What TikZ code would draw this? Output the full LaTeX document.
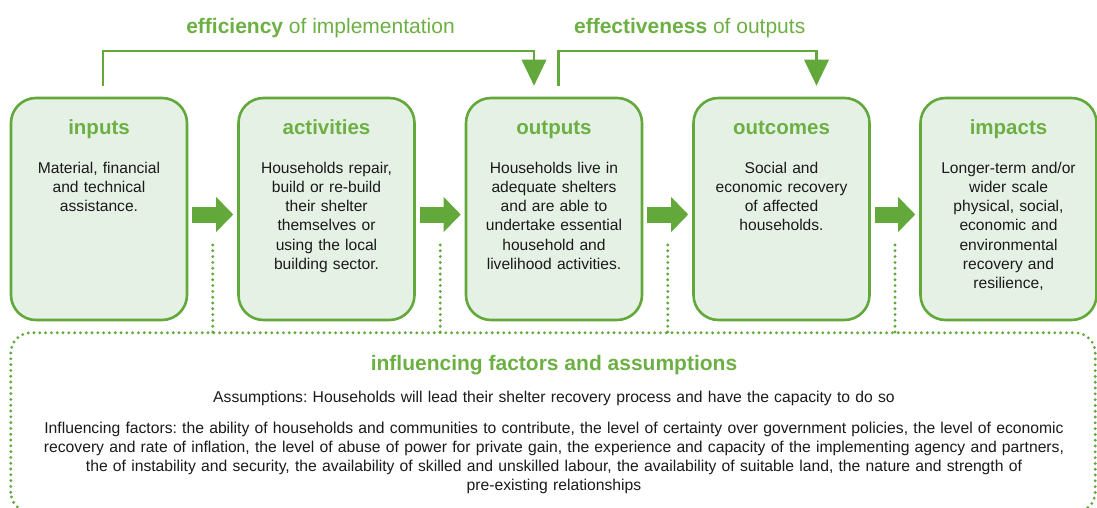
\documentclass[tikz,border=0pt]{standalone}
\usepackage{fontspec}
\setmainfont{Liberation Sans}
\usetikzlibrary{arrows.meta,calc}
\definecolor{lgreen}{HTML}{62A83A}
\definecolor{tgreen}{HTML}{6CB043}
\definecolor{boxfill}{HTML}{E6F1E6}
\definecolor{txt}{HTML}{1A1A1A}
\frenchspacing
\begin{document}
\begin{tikzpicture}[x=1pt,y=1pt,
  stage/.style={draw=lgreen,line width=2.6pt,fill=boxfill,rounded corners=25pt,minimum width=176pt,minimum height=222pt,inner sep=0pt},
  stitle/.style={font=\fontsize{20.5}{24}\selectfont\bfseries,text=tgreen,anchor=base,inner sep=0pt},
  sbody/.style={font=\fontsize{15.6}{19.3}\selectfont,text=txt,align=center,text width=176pt,anchor=base,inner sep=0pt},
  blockarrow/.style={draw=lgreen,line width=16pt,-{Triangle[length=17pt,width=35pt,line width=0pt]}},
  bracket/.style={draw=lgreen,line width=2.2pt,-{Triangle[length=26pt,width=25pt,line width=0pt]}},
  header/.style={font=\fontsize{21}{24}\selectfont,text=tgreen,anchor=base,inner sep=0pt},
  dotline/.style={draw=lgreen,line width=3.2pt,line cap=round,dash pattern=on 0pt off 5.8pt},
  ftext/.style={font=\fontsize{15.7}{19}\selectfont,text=txt,align=center,text width=1084pt,anchor=base,inner sep=0pt}
]
\useasboundingbox (0,0) rectangle (1097,507);
\clip (0,0) rectangle (1097,507);

% stage boxes
\node[stage] (inputs) at (99,298) {};
\node[stage] (activities) at (326.5,298) {};
\node[stage] (outputs) at (554,298) {};
\node[stage] (outcomes) at (781.5,298) {};
\node[stage] (impacts) at (1008.5,298) {};

% titles
\node[stitle] (t1) at (99,372) {inputs};
\node[stitle] (t2) at (326.5,372) {activities};
\node[stitle] (t3) at (554,372) {outputs};
\node[stitle] (t4) at (781.5,372) {outcomes};
\node[stitle] (t5) at (1008.5,372) {impacts};

% bodies
\node[sbody] (b1) at (99,334) {Material, financial\\and technical\\assistance.};
\node[sbody] (b2) at (326.5,334) {Households repair,\\build or re-build\\their shelter\\themselves or\\using the local\\building sector.};
\node[sbody] (b3) at (554,334) {Households live in\\adequate shelters\\and are able to\\undertake essential\\household and\\livelihood activities.};
\node[sbody] (b4) at (781.5,334) {Social and\\economic recovery\\of affected\\households.};
\node[sbody] (b5) at (1008.5,334) {Longer-term and/or\\wider scale\\physical, social,\\economic and\\environmental\\recovery and\\resilience,};

% block arrows
\draw[blockarrow] ([xshift=4pt,yshift=-5.5pt]inputs.east) -- ([xshift=-4pt,yshift=-5.5pt]activities.west);
\draw[blockarrow] ([xshift=4pt,yshift=-5.5pt]activities.east) -- ([xshift=-4pt,yshift=-5.5pt]outputs.west);
\draw[blockarrow] ([xshift=4pt,yshift=-5.5pt]outputs.east) -- ([xshift=-4pt,yshift=-5.5pt]outcomes.west);
\draw[blockarrow] ([xshift=4pt,yshift=-5.5pt]outcomes.east) -- ([xshift=-4pt,yshift=-5.5pt]impacts.west);

% brackets
\coordinate (e1) at ([xshift=4pt,yshift=11pt]inputs.north);
\coordinate (e2) at ([xshift=-20pt,yshift=11pt]outputs.north);
\coordinate (f1) at ([xshift=4.5pt,yshift=11pt]outputs.north);
\coordinate (f2) at ([xshift=35pt,yshift=11pt]outcomes.north);
\draw[bracket] (e1) -- ++(0,35) -| (e2);
\draw[bracket] (f1) -- ++(0,35) -| (f2);
\node[header] (h1) at (320.5,473) {\textbf{efficiency} of implementation};
\node[header] (h2) at (689.7,473) {\textbf{effectiveness} of outputs};

% influencing factors box
\node[draw=none,minimum width=1084pt,minimum height=179pt,inner sep=0pt] (factors) at (553,84.5) {};
\draw[dotline,rounded corners=20pt] (factors.south west) rectangle (factors.north east);
\coordinate (d1) at ($(inputs.east)!0.5!(activities.west)+(0,-36)$);
\coordinate (d2) at ($(activities.east)!0.5!(outputs.west)+(0,-36)$);
\coordinate (d3) at ($(outputs.east)!0.5!(outcomes.west)+(0,-36)$);
\coordinate (d4) at ($(outcomes.east)!0.5!(impacts.west)+(0,-36)$);
\foreach \d in {d1,d2,d3,d4} \draw[dotline] (\d) -- (\d |- factors.north);

\node[stitle,font=\fontsize{21}{24}\selectfont\bfseries] (ft) at (554,137) {influencing factors and assumptions};
\node[ftext] (fa) at (554,104.5) {Assumptions: Households will lead their shelter recovery process and have the capacity to do so};
\node[ftext] (fi) at (554,73.5) {Influencing factors: the ability of households and communities to contribute, the level of certainty over government policies, the level of economic\\recovery and rate of inflation, the level of abuse of power for private gain, the experience and capacity of the implementing agency and partners,\\the of instability and security, the availability of skilled and unskilled labour, the availability of suitable land, the nature and strength of\\pre-existing relationships};
\end{tikzpicture}
\end{document}
